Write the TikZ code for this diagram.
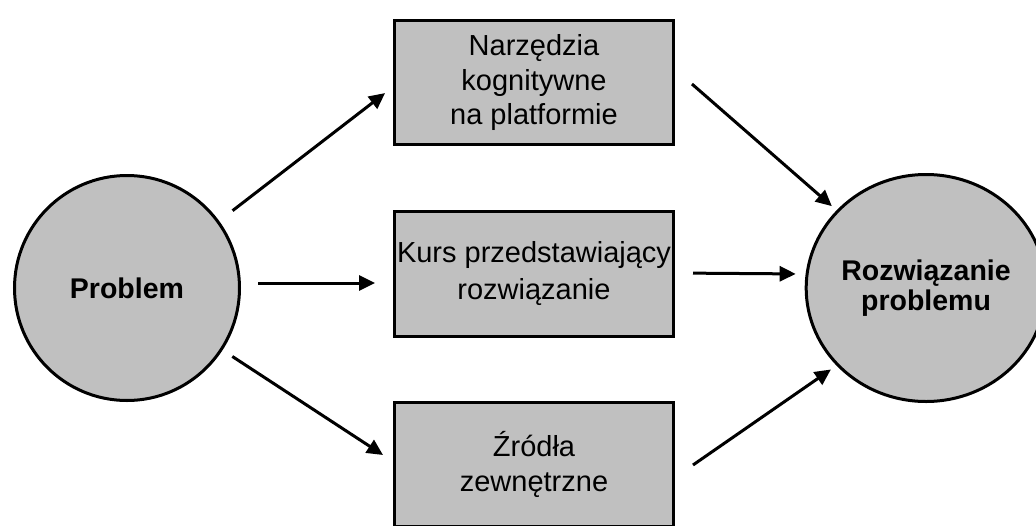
\documentclass[tikz,border=0pt]{standalone}
\usepackage{fontspec}
\setmainfont{Liberation Sans}
\usetikzlibrary{arrows.meta,shapes.geometric}
\definecolor{fillgray}{HTML}{C0C0C0}
\begin{document}
\begin{tikzpicture}[x=1pt,y=-1pt,
  shapefill/.style={fill=fillgray, draw=black, line width=3pt, inner sep=0pt, outer sep=0pt},
  boxnode/.style={shapefill, rectangle, minimum width=279pt, minimum height=124.5pt, align=center, font=\fontsize{29}{35}\selectfont},
  arr/.style={line width=3pt, -{Triangle[length=16pt,width=15pt]}}]
\useasboundingbox (0,0) rectangle (1036,525);
\node[shapefill, circle, minimum size=225pt, font=\fontsize{28.5}{30}\selectfont\bfseries] (prob) at (127,288) {Problem};
\node[shapefill, ellipse, minimum width=215pt, minimum height=227pt, align=center, font=\fontsize{28.5}{30}\selectfont\bfseries] (sol) at (926,288) {Rozwiązanie\\problemu};
\node[boxnode] (top) at (534,82.5) {Narzędzia\\kognitywne\\na platformie};
\node[boxnode, font=\fontsize{29}{37}\selectfont] (mid) at (534,274) {Kurs przedstawiający\\rozwiązanie};
\node[boxnode] (bot) at (534,464.5) {Źródła\\zewnętrzne};
\draw[arr, shorten <=18.4pt, shorten >=11.9pt] (prob.36.6) -- ([yshift=-3.3pt]top.west);
\draw[arr, shorten <=18.5pt, shorten >=19.5pt] ([yshift=5pt]prob.east) -- ([yshift=-9pt]mid.west);
\draw[arr, shorten <=13.1pt, shorten >=13.7pt] (prob.-33.3) -- ([yshift=2pt]bot.west);
\draw[arr, shorten <=24.5pt, shorten >=7.8pt] ([yshift=14.6pt]top.east) -- (sol.139.1);
\draw[arr, shorten <=19.5pt, shorten >=10.5pt] ([yshift=1pt]mid.east) -- ([yshift=14pt]sol.west);
\draw[arr, shorten <=23.7pt, shorten >=8.3pt] ([yshift=-14pt]bot.east) -- (sol.221.7);
\end{tikzpicture}
\end{document}
